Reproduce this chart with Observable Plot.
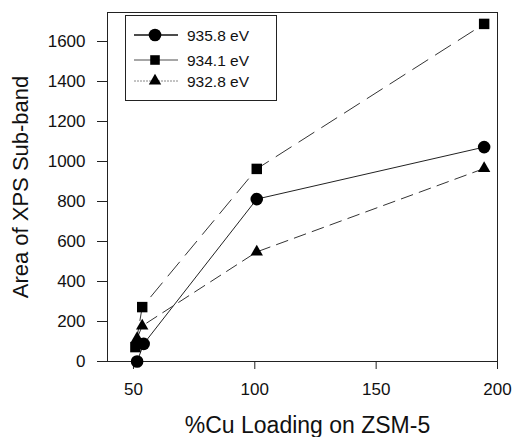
<!DOCTYPE html>
<html>
<head>
<meta charset="utf-8">
<script src="https://cdn.jsdelivr.net/npm/d3@7"></script>
<script src="https://cdn.jsdelivr.net/npm/@observablehq/plot@0.6"></script>
<style>
  html, body { margin: 0; padding: 0; background: #fff; }
  #wrap { position: relative; width: 513px; height: 437px; overflow: hidden; }
  #legend { position: absolute; left: 125px; top: 15px; }
</style>
</head>
<body>
<div id="wrap"></div>
<script>
const seriesNames = ["935.8 eV", "934.1 eV", "932.8 eV"];
const loading935 = [51.5, 54.2, 100.8, 194.5];
const area935    = [0, 88, 812, 1072];
const loading934 = [50.8, 53.6, 100.8, 194.5];
const area934    = [72, 272, 963, 1688];
const loading932 = [51.5, 53.6, 100.8, 194.5];
const area932    = [115, 178, 548, 965];
const xTicks = [50, 100, 150, 200];
const yTicks = [0, 200, 400, 600, 800, 1000, 1200, 1400, 1600];
const xTitle = "%Cu Loading on ZSM-5";
const yTitle = "Area of XPS Sub-band";

const mk = (xs, ys) => xs.map((x, i) => ({x, y: ys[i]}));
const d935 = mk(loading935, area935);
const d934 = mk(loading934, area934);
const d932 = mk(loading932, area932);

const font = "'Liberation Sans', Arial, sans-serif";
const ink = "#111";

const chart = Plot.plot({
  width: 513,
  height: 437,
  marginLeft: 107,
  marginRight: 16,
  marginTop: 12,
  marginBottom: 76,
  style: {fontFamily: font, color: ink, background: "#fff"},
  x: {domain: [39.3, 200]},
  y: {domain: [0, 1745]},
  marks: [
    Plot.frame({stroke: "#222", strokeWidth: 1}),
    Plot.axisX({ticks: xTicks, tickFormat: d => String(d), tickSize: 8, tickPadding: 13, fontSize: 17, label: null, stroke: "#222"}),
    Plot.axisY({ticks: yTicks, tickFormat: d => String(d), tickSize: 10, tickPadding: 12, fontSize: 17, label: null, stroke: "#222"}),
    Plot.line(d932, {x: "x", y: "y", stroke: "#333", strokeWidth: 1, strokeDasharray: "12,7"}),
    Plot.line(d934, {x: "x", y: "y", stroke: "#333", strokeWidth: 1, strokeDasharray: "18,9"}),
    Plot.line(d935, {x: "x", y: "y", stroke: "#222", strokeWidth: 1}),
    Plot.dot(d932, {x: "x", y: "y", symbol: "triangle", r: 4.6, fill: "#000", stroke: "none"}),
    Plot.dot(d934, {x: "x", y: "y", symbol: "square", r: 5.9, fill: "#000", stroke: "none"}),
    Plot.dot(d935, {x: "x", y: "y", symbol: "circle", r: 6.3, fill: "#000", stroke: "none"}),
    Plot.text([xTitle], {text: d => d, frameAnchor: "bottom", textAnchor: "middle", lineAnchor: "bottom", dy: 71, dx: 5, fontSize: 23, fill: ink}),
    Plot.text([yTitle], {text: d => d, frameAnchor: "left", textAnchor: "middle", lineAnchor: "middle", rotate: -90, dx: -87, fontSize: 22, fill: ink})
  ]
});

const wrap = document.getElementById("wrap");
wrap.appendChild(chart);

// Legend overlay
const ns = "http://www.w3.org/2000/svg";
const leg = document.createElementNS(ns, "svg");
leg.setAttribute("id", "legend");
leg.setAttribute("width", 153);
leg.setAttribute("height", 87);
leg.style.fontFamily = font;
const box = document.createElementNS(ns, "rect");
box.setAttribute("x", 0.5); box.setAttribute("y", 0.5);
box.setAttribute("width", 151); box.setAttribute("height", 85);
box.setAttribute("fill", "#fff"); box.setAttribute("stroke", "#222");
leg.appendChild(box);
const rows = [20, 45, 66];
const lineStyles = [
  {stroke: "#111", width: 1.3, dash: null},
  {stroke: "#888", width: 1.3, dash: null},
  {stroke: "#888", width: 1, dash: "2,1"}
];
const syms = [d3.symbolCircle, d3.symbolSquare, d3.symbolTriangle];
const symSizes = [Math.PI * 6.3 * 6.3, Math.PI * 5.4 * 5.4, Math.PI * 4.6 * 4.6];
seriesNames.forEach((name, i) => {
  const y = rows[i];
  const ln = document.createElementNS(ns, "line");
  ln.setAttribute("x1", 9); ln.setAttribute("x2", 53);
  ln.setAttribute("y1", y); ln.setAttribute("y2", y);
  ln.setAttribute("stroke", lineStyles[i].stroke);
  ln.setAttribute("stroke-width", lineStyles[i].width);
  if (lineStyles[i].dash) ln.setAttribute("stroke-dasharray", lineStyles[i].dash);
  leg.appendChild(ln);
  const p = document.createElementNS(ns, "path");
  p.setAttribute("d", d3.symbol(syms[i], symSizes[i])());
  p.setAttribute("transform", `translate(30,${y})`);
  p.setAttribute("fill", "#000");
  leg.appendChild(p);
  const t = document.createElementNS(ns, "text");
  t.setAttribute("x", 62); t.setAttribute("y", y);
  t.setAttribute("dy", "0.36em");
  t.setAttribute("font-size", 15.5);
  t.setAttribute("fill", ink);
  t.textContent = name;
  leg.appendChild(t);
});
wrap.appendChild(leg);
</script>
</body>
</html>
